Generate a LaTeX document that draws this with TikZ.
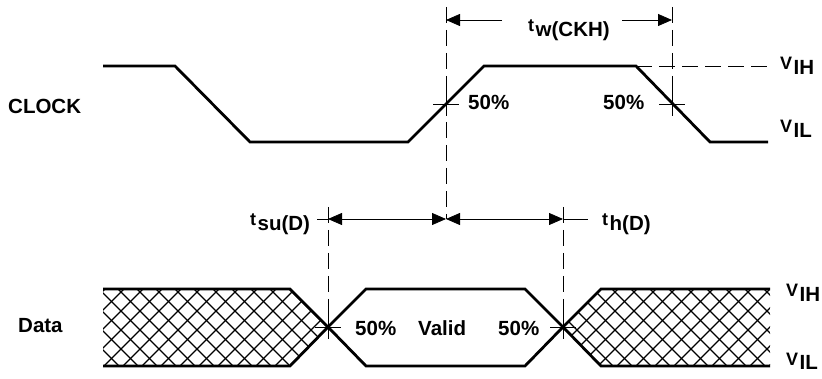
\documentclass[tikz,border=0pt]{standalone}
\usepackage{fontspec}
\setmainfont{Liberation Sans}
\usetikzlibrary{arrows.meta}
\newcommand{\sublabel}[2]{{\fontsize{18}{21}\selectfont #1}\hspace{1.5pt}\raisebox{-5pt}{\fontsize{20.5}{24}\selectfont #2}}

\begin{document}
\begin{tikzpicture}[x = 1pt, y = -1pt,
                    wave/.style = {line width = 2.8pt, line join = miter},
                    guide/.style = {line width = 0.8pt, dash pattern = on 16pt off 7pt},
                    tick/.style = {line width = 0.8pt},
                    hatch/.style = {line width = 1.3pt},
                    dimline/.style = {line width = 0.8pt,
                                      -{Triangle[length = 14pt, width = 12pt]}},
                    dimboth/.style = {line width = 0.8pt,
                                      {Triangle[length = 14pt, width = 12pt]}-{Triangle[length = 14pt, width = 12pt]}},
                    mlabel/.style = {font = \fontsize{20.5}{24}\selectfont\bfseries,
                                     inner sep = 0pt, anchor = base west},
                    slabel/.style = {font = \bfseries, inner sep = 0pt, anchor = base west}]
		\useasboundingbox (0,0) rectangle (822,379);
		% clock
		\draw[wave] (103,66) -- (175,66) -- (250,142) -- (408,142) -- (484,66)
			-- (636,66) -- (710,142) -- (768,142);
		\draw[guide] (636,66) -- (768,66);
		% data
		\begin{scope}
			\clip (103,289) -- (290,289) -- (328,327) -- (290,366) -- (103,366) -- cycle
				(563,327) -- (601,289) -- (770,289) -- (770,366) -- (601,366) -- cycle;
			\foreach \k in {0,19,...,1000} {
				\draw[hatch] (\k,280) -- ++(-100,100);
				\draw[hatch] (\k-100,280) -- ++(100,100);
			}
		\end{scope}
		\draw[wave] (103,289) -- (290,289) -- (328,327) -- (366,289) -- (525,289)
			-- (563,327) -- (601,289) -- (770,289);
		\draw[wave] (103,366) -- (290,366) -- (328,327) -- (366,366) -- (525,366)
			-- (563,327) -- (601,366) -- (770,366);
		% reference points
		\coordinate (ckrise) at (446,104);
		\coordinate (ckfall) at (672,104);
		\coordinate (dleft) at (328,327);
		\coordinate (dright) at (563,327);
		\coordinate (swtop) at (446,20);
		\coordinate (ewtop) at (672,20);
		\coordinate (swmid) at (502,20);
		\coordinate (ewmid) at (622,20);
		\coordinate (sumid) at (446,219);
		\coordinate (suleft) at (328,219);
		\coordinate (hright) at (563,219);
		% guides
		\draw[guide] (446,7) -- (sumid);
		\draw[guide] (672,7) -- (672,116);
		\draw[guide] (328,207) -- (328,340);
		\draw[guide] (563,207) -- (563,340);
		\foreach \p in {ckrise, ckfall, dleft, dright} {
			\draw[tick] ([xshift = -13pt]\p) -- ([xshift = 13pt]\p);
			\draw[tick] ([yshift = -12pt]\p) -- ([yshift = 12pt]\p);
		}
		% timing
		\draw[dimline] (swmid) -- (swtop);
		\draw[dimline] (ewmid) -- (ewtop);
		\draw[dimboth] (suleft) -- (sumid);
		\draw[dimboth] (sumid) -- (hright);
		\draw[tick] (317,219) -- (suleft);
		\draw[tick] (hright) -- (588,219);
		% labels
		\node[mlabel] (clk) at (8,114) {CLOCK};
		\node[mlabel] (dat) at (18,333) {Data};
		\node[mlabel] (ckp1) at (468,110) {50\%};
		\node[mlabel] (ckp2) at (603,110) {50\%};
		\node[mlabel] (dp1) at (355,336) {50\%};
		\node[mlabel] (valid) at (418,336) {Valid};
		\node[mlabel] (dp2) at (498,336) {50\%};
		\node[slabel] (tw) at (528,32) {\sublabel{t}{w(CKH)}};
		\node[slabel] (tsu) at (250,226) {\sublabel{t}{su(D)}};
		\node[slabel] (th) at (602,226) {\sublabel{t}{h(D)}};
		\node[slabel] (vih1) at (780,70) {\sublabel{V}{IH}};
		\node[slabel] (vil1) at (780,133) {\sublabel{V}{IL}};
		\node[slabel] (vih2) at (786,297) {\sublabel{V}{IH}};
		\node[slabel] (vil2) at (786,365) {\sublabel{V}{IL}};
\end{tikzpicture}
\end{document}
